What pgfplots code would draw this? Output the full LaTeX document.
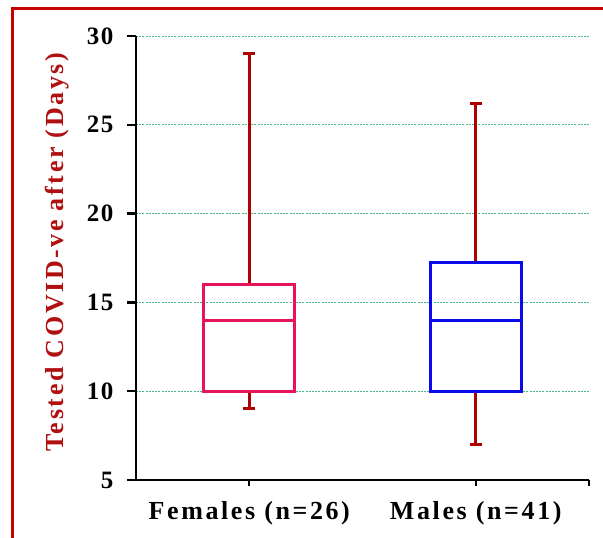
\documentclass[border=0pt]{standalone}
\usepackage{pgfplots}
\pgfplotsset{compat=1.18}
\usepackage{fontspec}
\setmainfont{Liberation Serif}
\newfontfamily\lsf{Liberation Serif}[LetterSpace=10]
\newfontfamily\tsf{Liberation Serif}[LetterSpace=6]
\definecolor{framec}{RGB}{200,0,0}
\definecolor{whisk}{RGB}{176,0,0}
\definecolor{femc}{RGB}{232,20,90}
\definecolor{malc}{RGB}{10,10,235}
\definecolor{gridg}{RGB}{70,185,130}
\definecolor{ylab}{RGB}{176,16,16}
\begin{document}
\begin{tikzpicture}
\path[use as bounding box] (-136pt,-58pt) rectangle (467pt,480pt);
\clip (-136pt,-58pt) rectangle (467pt,480pt);
\fill[white] (-136pt,-58pt) rectangle (467pt,480pt);
\draw[framec, line width=3pt] (-123pt,-80pt) rectangle (490pt,471pt);
\begin{axis}[
  at={(0,0)}, anchor=south west, scale only axis,
  width=453pt, height=444pt,
  xmin=-0.5, xmax=1.5, ymin=5, ymax=30,
  axis x line=bottom, axis y line=left,
  axis line style={-, line width=2.5pt, black},
  xtick={0,1,1.5}, xticklabels={Females (n=26), Males (n=41), {}},
  ytick={5,10,...,30},
  tick align=outside,
  major tick length=9pt,
  major tick style={line width=2.5pt, black},
  xtick style={/pgfplots/major tick length=6pt},
  /pgf/number format/assume math mode=true,
  yticklabel style={xshift=-10pt, font={\fontsize{25}{28}\tsf\bfseries}},
  xticklabel style={yshift=-9pt, font={\fontsize{26}{28}\lsf\bfseries}},
  ymajorgrids,
  grid style={gridg, line width=0.7pt, dash pattern=on 2pt off 1.2pt},
  ylabel={Tested COVID-ve after (Days)},
  ylabel style={font={\fontsize{26}{28}\lsf\bfseries}, color=ylab,
    at={(axis description cs:-0.174,0.513)}, anchor=center},
  clip=false,
  unbounded coords=jump,
]
% Females: whiskers 9 / 29, box 10-16, median 14
\addplot[whisk, line width=3pt, mark=none] coordinates {
  (0,16) (0,29) (nan,nan) (-0.0275,29) (0.0275,29) (nan,nan)
  (0,10) (0,9) (nan,nan) (-0.0275,9) (0.0275,9)};
\addplot[femc, line width=3pt, line cap=rect, mark=none] coordinates {
  (-0.2,10) (0.2,10) (0.2,16) (-0.2,16) (-0.2,10)};
\addplot[femc, line width=3pt, mark=none] coordinates {(-0.2,14) (0.2,14)};
% Males: whiskers 7 / 26.2, box 10-17.25, median 14
\addplot[whisk, line width=3pt, mark=none] coordinates {
  (1,17.25) (1,26.2) (nan,nan) (0.9725,26.2) (1.0275,26.2) (nan,nan)
  (1,10) (1,7) (nan,nan) (0.9725,7) (1.0275,7)};
\addplot[malc, line width=3pt, line cap=rect, mark=none] coordinates {
  (0.8,10) (1.2,10) (1.2,17.25) (0.8,17.25) (0.8,10)};
\addplot[malc, line width=3pt, mark=none] coordinates {(0.8,14) (1.2,14)};
\end{axis}
\end{tikzpicture}
\end{document}
